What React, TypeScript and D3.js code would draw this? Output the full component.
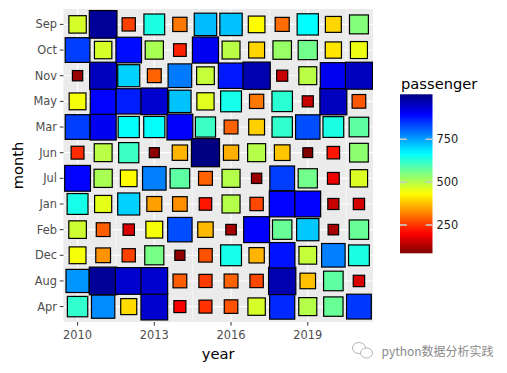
import React from "react";
import * as d3 from "d3";

const years = [2010, 2011, 2012, 2013, 2014, 2015, 2016, 2017, 2018, 2019, 2020, 2021];
// y-axis order from bottom to top
const months = ["Apr", "Aug", "Dec", "Feb", "Jan", "Jul", "Jun", "Mar", "May", "Nov", "Oct", "Sep"];
const xTicks = [2010, 2013, 2016, 2019];
const xMinor = [2011.5, 2014.5, 2017.5, 2020.5];
const legendTicks = [250, 500, 750];

// passenger values per month, one per year 2010..2021
const Sep = [470, 990, 260, 640, 310, 725, 720, 430, 300, 665, 395, 545];
const Oct = [840, 470, 885, 510, 230, 910, 495, 395, 525, 560, 410, 450];
const Nov = [110, 955, 705, 290, 785, 485, 875, 970, 150, 495, 910, 955];
const May = [440, 895, 870, 940, 720, 460, 645, 310, 625, 150, 955, 280];
const Mar = [840, 910, 660, 660, 900, 610, 290, 390, 620, 825, 640, 580];
const Jun = [240, 495, 610, 95, 365, 1012, 360, 500, 380, 85, 220, 535];
const Jul = [895, 510, 430, 780, 580, 290, 500, 110, 840, 560, 185, 465];
const Jan = [645, 455, 705, 345, 330, 220, 500, 265, 895, 895, 150, 160];
const Feb = [478, 285, 165, 440, 825, 370, 120, 900, 570, 715, 120, 570];
const Dec = [440, 335, 260, 555, 100, 275, 645, 365, 880, 485, 780, 640];
const Aug = [760, 990, 940, 940, 285, 255, 290, 265, 970, 375, 580, 165];
const Apr = [620, 770, 400, 940, 195, 245, 275, 470, 860, 500, 570, 845];

const series: Record<string, number[]> = { Sep, Oct, Nov, May, Mar, Jun, Jul, Jan, Feb, Dec, Aug, Apr };

const data = years.flatMap((y, i) =>
  ["Jan", "Feb", "Mar", "Apr", "May", "Jun", "Jul", "Aug", "Sep", "Oct", "Nov", "Dec"].map((m) => ({
    year: y,
    month: m,
    passenger: series[m][i],
  }))
);

const clamp = (v: number) => Math.max(0, Math.min(1, v));
function jetRev(t: number) {
  const x = 1 - t;
  const r = clamp(1.5 - Math.abs(4 * x - 3));
  const g = clamp(1.5 - Math.abs(4 * x - 2));
  const b = clamp(1.5 - Math.abs(4 * x - 1));
  return d3.rgb(r * 255, g * 255, b * 255).formatHex();
}

export default function App() {
  const W = 507, H = 373;
  const pL = 63.5, pR = 373, pT = 9, pB = 322;
  const [vmin, vmax] = d3.extent(data, (d) => d.passenger) as [number, number];
  const xs = d3.scaleLinear().domain([2010 - 0.55, 2021 + 0.55]).range([pL, pR]);
  const ys = d3.scalePoint<string>().domain(months).range([pB, pT]).padding(0.6);
  const cNorm = d3.scaleLinear().domain([vmin, vmax]).range([0, 1]);
  const size = d3.scaleLinear().domain([vmin, vmax]).range([9.8, 28.1]);
  const color = (v: number) => jetRev(cNorm(v));

  const cbX = 400, cbW = 32.5, cbTop = 94.3, cbBot = 253.3;
  const cbY = d3.scaleLinear().domain([vmin, vmax]).range([cbBot, cbTop]);
  const stops = d3.range(0, 1.0001, 0.02);

  const font = "DejaVu Sans, sans-serif";

  return (
    <svg width={W} height={H} style={{ position: "absolute", left: 0, top: 0, background: "#fff" }} fontFamily={font}>
      <defs>
        <linearGradient id="cb" x1="0" y1="1" x2="0" y2="0">
          {stops.map((s) => (
            <stop key={s} offset={s} stopColor={jetRev(s)} />
          ))}
        </linearGradient>
      </defs>
      <rect x={pL} y={pT} width={pR - pL} height={pB - pT} fill="#ebebeb" />
      {xMinor.map((t) => (
        <line key={"mn" + t} x1={xs(t)} x2={xs(t)} y1={pT} y2={pB} stroke="#fff" strokeWidth={0.55} />
      ))}
      {months.map((m) => (
        <line key={"gy" + m} x1={pL} x2={pR} y1={ys(m)} y2={ys(m)} stroke="#fff" strokeWidth={1.1} />
      ))}
      {xTicks.map((t) => (
        <line key={"gx" + t} x1={xs(t)} x2={xs(t)} y1={pT} y2={pB} stroke="#fff" strokeWidth={1.1} />
      ))}
      {data.map((d, i) => {
        const s = size(d.passenger);
        return (
          <rect
            key={i}
            x={xs(d.year) - s / 2}
            y={(ys(d.month) as number) - s / 2}
            width={s}
            height={s}
            fill={color(d.passenger)}
            stroke="#000"
            strokeWidth={1.2}
          />
        );
      })}
      {/* axes */}
      {months.map((m) => (
        <g key={"ly" + m}>
          <line x1={pL - 3.7} x2={pL} y1={ys(m)} y2={ys(m)} stroke="#333" strokeWidth={1} />
          <text x={pL - 6.5} y={ys(m)} dy="0.36em" textAnchor="end" fontSize={11.4} fill="#4d4d4d">
            {m}
          </text>
        </g>
      ))}
      {xTicks.map((t) => (
        <g key={"lx" + t}>
          <line x1={xs(t)} x2={xs(t)} y1={pB} y2={pB + 3.7} stroke="#333" strokeWidth={1} />
          <text x={xs(t)} y={pB + 16.6} textAnchor="middle" fontSize={11.4} fill="#4d4d4d">
            {t}
          </text>
        </g>
      ))}
      <text x={(pL + pR) / 2} y={359} textAnchor="middle" fontSize={14.7} fill="#000">
        year
      </text>
      <text
        transform={`translate(23.2, ${(pT + pB) / 2}) rotate(-90)`}
        textAnchor="middle"
        fontSize={14.7}
        fill="#000"
      >
        month
      </text>
      {/* legend */}
      <text x={401} y={89} fontSize={14.7} fill="#000">
        passenger
      </text>
      <rect x={cbX} y={cbTop} width={cbW} height={cbBot - cbTop} fill="url(#cb)" />
      {legendTicks.map((t) => (
        <g key={"lt" + t}>
          <line x1={cbX} x2={cbX + 6.8} y1={cbY(t)} y2={cbY(t)} stroke="#cccccc" strokeWidth={1.6} />
          <line x1={cbX + cbW - 6.8} x2={cbX + cbW} y1={cbY(t)} y2={cbY(t)} stroke="#cccccc" strokeWidth={1.6} />
          <text x={436.5} y={cbY(t)} dy="0.36em" fontSize={11.4} fill="#1a1a1a">
            {t}
          </text>
        </g>
      ))}
      {/* watermark */}
      <g stroke="#9a9a9a" strokeWidth={0.9} fill="none" opacity={0.8}>
        <ellipse cx={359} cy={348} rx={6.5} ry={5.5} />
        <ellipse cx={366.5} cy={353} rx={6} ry={5} fill="#fff" />
      </g>
      <text x={381.5} y={355.5} fontSize={12} fill="#8a8a8a" fontFamily="Noto Sans CJK SC, Noto Sans, sans-serif">
        python数据分析实践
      </text>
    </svg>
  );
}
